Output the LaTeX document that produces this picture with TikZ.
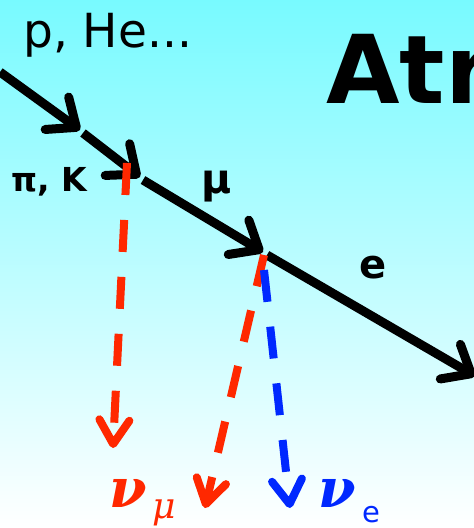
\documentclass[tikz,border=0pt]{standalone}
\usepackage{fontspec}
\setmainfont{DejaVu Sans}
\newfontfamily\greekserif{DejaVu Serif}
\usetikzlibrary{arrows.meta}
\definecolor{skycyan}{RGB}{120,250,255}
\definecolor{nured}{RGB}{255,40,0}
\definecolor{nublue}{RGB}{0,40,255}
\begin{document}
\begin{tikzpicture}[x=1pt,y=-1pt,
  track/.style={line width=9pt,-{Straight Barb[round,length=24pt,width=40pt]}},
  nutrack/.style={line width=8pt,dash pattern=on 32pt off 25pt,
    -{Straight Barb[round,length=24pt,width=30pt]}},
  lbl/.style={anchor=base west,inner sep=0pt}]
\useasboundingbox (0,0) rectangle (474,528);
\clip (0,0) rectangle (474,528);
\shade[top color=skycyan,bottom color=white] (0,0) rectangle (474,528);
% labels
\node[lbl] (prim) at (23,47) {\fontsize{47}{47}\selectfont p, He...};
\node[lbl] (title) at (326,103) {\fontsize{95}{95}\selectfont\bfseries Atr};
\node[lbl] (meson) at (11,191) {\fontsize{33}{33}\selectfont\bfseries π, K};
\node[lbl] (muon) at (201,193) {\fontsize{41}{41}\selectfont\bfseries μ};
\node[lbl] (elec) at (359,278) {\fontsize{40}{40}\selectfont\bfseries e};
\node[lbl,text=nured] (numu) at (109,507) {\fontsize{54}{54}\selectfont\greekserif\bfseries\itshape ν};
\node[lbl,text=nured] (numusub) at (152,518) {\fontsize{36}{36}\selectfont\greekserif\itshape μ};
\node[lbl,text=nublue] (nue) at (318,507) {\fontsize{54}{54}\selectfont\greekserif\bfseries\itshape ν};
\node[lbl,text=nublue] (nuesub) at (362,522) {\fontsize{29}{29}\selectfont e};
% charged tracks
\coordinate (cr0) at (0,72);
\coordinate (cr1) at (80,130);
\coordinate (pk0) at (83,133);
\coordinate (pk1) at (140,177);
\coordinate (mu0) at (143,180);
\coordinate (mu1) at (263,252);
\coordinate (el0) at (267,255);
\coordinate (el1) at (475,376);
\draw[track] (cr0) -- (cr1);
\draw[track] (pk0) -- (pk1);
\draw[track] (mu0) -- (mu1);
\draw[track] (el0) -- (el1);
% neutrinos
\coordinate (pkdec) at (127,163);
\coordinate (numu1) at (113,448);
\coordinate (mudec) at (264,255);
\coordinate (numu2) at (205,508);
\coordinate (mudecb) at (264,270);
\coordinate (nue1) at (290,508);
\draw[nutrack,nured] (pkdec) -- (numu1);
\draw[nutrack,nured] (mudec) -- (numu2);
\draw[nutrack,nublue] (mudecb) -- (nue1);
\end{tikzpicture}
\end{document}
